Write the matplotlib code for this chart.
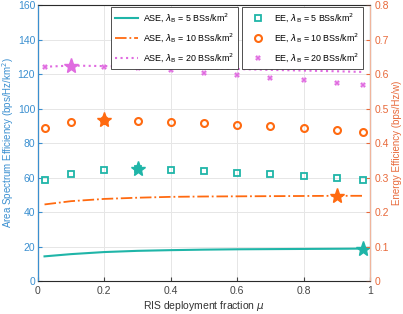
import numpy as np
import matplotlib.pyplot as plt
from matplotlib.lines import Line2D

# RIS deployment fraction
mu_line = [0.02, 0.1, 0.2, 0.3, 0.4, 0.5, 0.6, 0.7, 0.8, 0.9, 0.98]
mu_pts = [0.02, 0.1, 0.2, 0.3, 0.4, 0.5, 0.6, 0.7, 0.8, 0.9, 0.98]

# Area spectrum efficiency (bps/Hz/km^2)
ase_5 = [14.3, 15.6, 16.8, 17.5, 17.9, 18.2, 18.4, 18.5, 18.6, 18.7, 18.8]
ase_10 = [44.4, 46.3, 47.6, 48.3, 48.8, 49.0, 49.1, 49.2, 49.3, 49.4, 49.4]
ase_20 = [124.2, 124.9, 124.6, 124.2, 123.8, 123.3, 122.9, 122.4, 122.0, 121.6, 121.2]

# Energy efficiency (bps/Hz/W)
ee_5 = [0.292, 0.310, 0.321, 0.324, 0.322, 0.318, 0.314, 0.310, 0.304, 0.298, 0.293]
ee_10 = [0.445, 0.460, 0.467, 0.464, 0.462, 0.457, 0.452, 0.449, 0.444, 0.437, 0.431]
ee_20 = [0.621, 0.624, 0.621, 0.617, 0.611, 0.604, 0.597, 0.589, 0.582, 0.575, 0.567]

lams = [5, 10, 20]
teal = '#1fb5a8'
orange = '#ff6a10'
magenta = '#e06be0'
blue = '#3a8fd0'
rcol = '#e8693a'

plt.rcParams['font.family'] = ['Liberation Sans', 'DejaVu Sans']

fig = plt.figure(figsize=(4.03, 3.14), dpi=100)
ax = fig.add_axes([0.094, 0.105, 0.824, 0.879])
ax2 = ax.twinx()

ax.plot(mu_line, ase_5, '-', color=teal, lw=1.5)
ax.plot(mu_line, ase_10, '-.', color=orange, lw=1.3)
ax.plot(mu_line, ase_20, ':', color=magenta, lw=1.5)

# stars at max ASE
for y, c in [(ase_5, teal), (ase_10, orange)]:
    i = int(np.argmax(y))
    ax.plot(mu_line[i], y[i], '*', color=c, ms=11, zorder=5)

ax2.plot(mu_pts, ee_5, 's', mec=teal, mfc='none', ms=4, mew=1.3, ls='none')
ax2.plot(mu_pts, ee_10, 'o', mec=orange, mfc='none', ms=5, mew=1.5, ls='none')
ax2.plot(mu_pts, ee_20, 'X', color=magenta, ms=4, mew=0, ls='none')
for y, c in [(ee_5, teal), (ee_10, orange), (ee_20, magenta)]:
    i = int(np.argmax(y))
    ax2.plot(mu_pts[i], y[i], '*', color=c, ms=11, zorder=5)

ax.set_xlim(0, 1)
ax.set_ylim(0, 160)
ax2.set_ylim(0, 0.8)
ax.set_xticks(np.arange(0, 1.01, 0.2))
ax.set_xticklabels(['0', '0.2', '0.4', '0.6', '0.8', '1'])
ax.set_yticks(np.arange(0, 161, 20))
ax2.set_yticks(np.arange(0, 0.81, 0.1))
ax2.set_yticklabels(['0'] + ['%.1f' % v for v in np.arange(0.1, 0.81, 0.1)])

ax.grid(True, color='#e6e6e6', lw=0.7)
ax.set_axisbelow(True)

ax.set_xlabel(r'RIS deployment fraction $\mu$', fontsize=7.5, color='#333333', labelpad=2)
ax.set_ylabel(r'Area Spectrum Efficiency (bps/Hz/km$^2$)', fontsize=7, color=blue)
ax.yaxis.set_label_coords(-0.066, 0.5)
ax2.set_ylabel('Energy Efficiency (bps/Hz/w)', fontsize=7, color=rcol, labelpad=2)

ax.tick_params(axis='x', labelsize=7.5, colors='#444444', direction='in', length=3)
ax.tick_params(axis='y', labelsize=7.5, colors=blue, direction='in', length=3, pad=2)
ax2.tick_params(axis='y', labelsize=7.5, colors=rcol, direction='in', length=3)
for s in ['top', 'bottom']:
    ax2.spines[s].set_color('#333333')
    ax2.spines[s].set_linewidth(0.6)
ax2.spines['left'].set_color(blue)
ax2.spines['right'].set_color('#f0b59c')
ax2.spines['left'].set_linewidth(0.8)
ax2.spines['right'].set_linewidth(0.8)

h1 = [Line2D([], [], color=teal, ls='-', lw=1.5),
      Line2D([], [], color=orange, ls='-.', lw=1.3),
      Line2D([], [], color=magenta, ls=':', lw=1.5)]
l1 = [r'ASE, $\lambda_\mathrm{B}$ = %d BSs/km$^2$' % l for l in lams]
h2 = [Line2D([], [], marker='s', mec=teal, mfc='none', ms=4, mew=1.3, ls='none'),
      Line2D([], [], marker='o', mec=orange, mfc='none', ms=5, mew=1.5, ls='none'),
      Line2D([], [], marker='X', color=magenta, ms=4, mew=0, ls='none')]
l2 = [r'EE, $\lambda_\mathrm{B}$ = %d BSs/km$^2$' % l for l in lams]

leg1 = ax2.legend(h1, l1, loc='upper left', bbox_to_anchor=(0.22, 0.993),
                  fontsize=6.4, fancybox=False, edgecolor='#333333',
                  handlelength=2.6, borderpad=0.5, labelspacing=0.75,
                  handletextpad=0.5, borderaxespad=0, framealpha=1)
leg1.get_frame().set_linewidth(0.6)
ax2.add_artist(leg1)
leg2 = ax2.legend(h2, l2, loc='upper left', bbox_to_anchor=(0.614, 0.993),
                  fontsize=6.4, fancybox=False, edgecolor='#333333',
                  handlelength=2.6, borderpad=0.5, labelspacing=0.75,
                  handletextpad=0.5, borderaxespad=0, framealpha=1)
leg2.get_frame().set_linewidth(0.6)

fig.savefig('out.png', dpi=100)
